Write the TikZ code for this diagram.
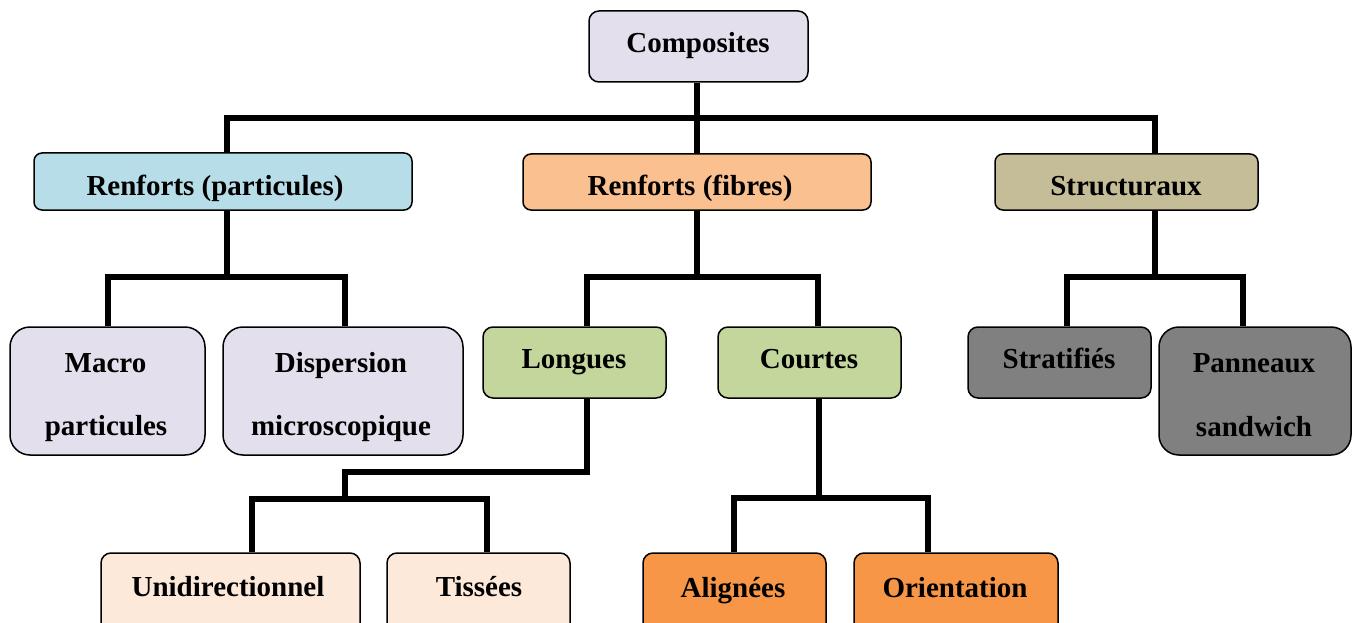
\documentclass[tikz,border=0pt]{standalone}
\usepackage{fontspec}
\setmainfont{Liberation Serif}
\definecolor{lavender}{HTML}{E4DFEC}
\definecolor{skyfill}{HTML}{B7DDE8}
\definecolor{peach}{HTML}{FAC090}
\definecolor{khaki}{HTML}{C4BD97}
\definecolor{leaf}{HTML}{C3D69B}
\definecolor{slate}{HTML}{808080}
\definecolor{cream}{HTML}{FDE9D9}
\definecolor{tangerine}{HTML}{F79646}
\begin{document}
\begin{tikzpicture}[x=1pt,y=-1pt,
  box/.style={draw=black, line width=1.5pt, rounded corners=10pt, inner sep=0pt},
  tallbox/.style={box, rounded corners=20pt},
  lbl/.style={anchor=base, inner sep=0pt, font=\fontsize{29}{34}\selectfont\bfseries},
  conn/.style={draw=black, line width=6.5pt, line join=miter}]
\useasboundingbox (0,0) rectangle (1360,623);
\clip (0,0) rectangle (1360,623);
\fill[white] (0,0) rectangle (1360,623);

% boxes
\node[box, fill=lavender, minimum width=219pt, minimum height=71pt] (comp) at (698.5,46.5) {};
\node[box, rounded corners=8pt, fill=skyfill, minimum width=378pt, minimum height=57pt] (rp) at (223,181.5) {};
\node[box, rounded corners=8pt, fill=peach, minimum width=348pt, minimum height=56pt] (rf) at (697,182) {};
\node[box, rounded corners=8pt, fill=khaki, minimum width=263pt, minimum height=56pt] (st) at (1126.5,182) {};
\node[tallbox, fill=lavender, minimum width=195pt, minimum height=128pt] (mac) at (107.5,391) {};
\node[tallbox, fill=lavender, minimum width=240pt, minimum height=128pt] (dis) at (343,391) {};
\node[box, fill=leaf, minimum width=183pt, minimum height=71pt] (lon) at (574.5,362.5) {};
\node[box, fill=leaf, minimum width=183pt, minimum height=71pt] (cou) at (809.5,362.5) {};
\node[box, fill=slate, minimum width=183pt, minimum height=71pt] (str) at (1059.5,362.5) {};
\node[tallbox, fill=slate, minimum width=192pt, minimum height=128pt] (pan) at (1255,391) {};
\node[box, fill=cream, minimum width=259pt, minimum height=90pt] (uni) at (230.5,598) {};
\node[box, fill=cream, minimum width=183pt, minimum height=90pt] (tis) at (478.5,598) {};
\node[box, fill=tangerine, minimum width=183pt, minimum height=90pt] (ali) at (734.5,598) {};
\node[box, fill=tangerine, minimum width=204pt, minimum height=90pt] (ori) at (956,598) {};

% labels
\node[lbl] (comp-t) at (698,53) {Composites};
\node[lbl] (rp-t) at (215,195) {Renforts (particules)};
\node[lbl] (rf-t) at (690,195) {Renforts (fibres)};
\node[lbl] (st-t) at (1126,195) {Structuraux};
\node[lbl] (mac-t1) at (105.5,372) {Macro};
\node[lbl] (mac-t2) at (106,435) {particules};
\node[lbl] (dis-t1) at (341,372) {Dispersion};
\node[lbl] (dis-t2) at (341,435) {microscopique};
\node[lbl] (lon-t) at (574,368) {Longues};
\node[lbl] (cou-t) at (809,368) {Courtes};
\node[lbl] (str-t) at (1059,368) {Stratifiés};
\node[lbl] (pan-t1) at (1254,372) {Panneaux};
\node[lbl] (pan-t2) at (1254,436) {sandwich};
\node[lbl] (uni-t) at (228,596) {Unidirectionnel};
\node[lbl] (tis-t) at (479,596) {Tissées};
\node[lbl] (ali-t) at (733,597) {Alignées};
\node[lbl] (ori-t) at (955,597) {Orientation};

% junctions of the tree
\coordinate (j1) at (697,118);
\coordinate (j2) at (227,277);
\coordinate (j3) at (697,277);
\coordinate (j4) at (1155,277);
\coordinate (j5) at (587,472);
\coordinate (j6) at (345,499);
\coordinate (j7) at (819,498);

% level 1
\draw[conn] ([xshift=-1.5pt]comp.south) -- ([xshift=-1.5pt]comp.south |- j1);
\draw[conn] ([xshift=4pt]rp.north) |- (j1) -| ([xshift=28.5pt]st.north);
\draw[conn] (rf.north) -- (rf.north |- j1);

% level 2
\draw[conn] ([xshift=4pt]rp.south) -- (j2);
\draw[conn] ([xshift=0.5pt]mac.north) |- (j2) -| ([xshift=2pt]dis.north);
\draw[conn] (rf.south) -- (j3);
\draw[conn] ([xshift=12.5pt]lon.north) |- (j3) -| ([xshift=8.5pt]cou.north);
\draw[conn] ([xshift=28.5pt]st.south) -- (j4);
\draw[conn] ([xshift=7.5pt]str.north) |- (j4) -| ([xshift=-12pt]pan.north);

% level 3
\draw[conn] ([xshift=12.5pt]lon.south) -- (j5) -| (j6);
\draw[conn] ([xshift=21.5pt]uni.north) |- (j6) -| ([xshift=8.5pt]tis.north);
\draw[conn] ([xshift=9.5pt]cou.south) -- (j7);
\draw[conn] ([xshift=-0.5pt]ali.north) |- (j7) -| ([xshift=-28pt]ori.north);
\end{tikzpicture}
\end{document}
